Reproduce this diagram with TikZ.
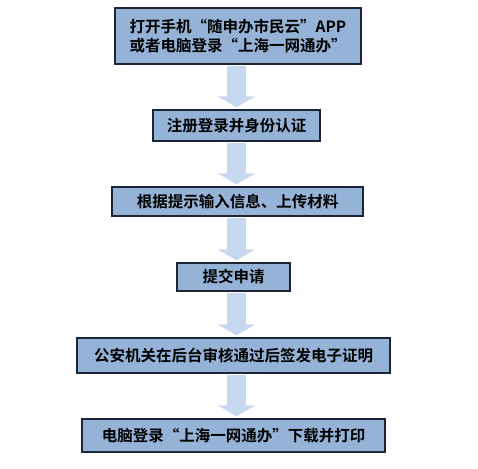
\documentclass[tikz,border=0pt]{standalone}
\usepackage{fontspec}
\newfontfamily\cjk{Noto Sans CJK SC}[BoldFont={Noto Sans CJK SC Bold}]
\usepackage{tikz}
\usetikzlibrary{arrows.meta, calc}
\definecolor{stepfill}{RGB}{149,179,215}
\definecolor{stepline}{RGB}{28,36,56}
\definecolor{flowblue}{RGB}{198,216,240}
\tikzset{
  stepbox/.style = {rectangle, draw=stepline, line width=1.3pt, fill=stepfill, align=center, inner sep=2pt,
                    font=\cjk\bfseries\fontsize{15.5}{19.5}\selectfont},
  flow/.style    = {draw=flowblue, line width=19pt, shorten <=1pt, shorten >=2pt,
                    -{Triangle[length=11pt, width=37pt]}},
}

\begin{document}
\begin{tikzpicture}[x=1pt, y=-1pt]
    \useasboundingbox (0,0) rectangle (478,468);

    % steps
    \node[stepbox, minimum width=246pt, minimum height=56pt] (open)   at (238,36)
      {打开手机“随申办市民云”APP\\或者电脑登录“上海一网通办”};
    \node[stepbox, minimum width=167pt, minimum height=31pt] (reg)    at (236.5,125.5) {注册登录并身份认证};
    \node[stepbox, minimum width=251pt, minimum height=29pt] (input)  at (237.5,201.5) {根据提示输入信息、上传材料};
    \node[stepbox, minimum width=113pt, minimum height=28pt] (submit) at (233.5,277) {提交申请};
    \node[stepbox, minimum width=313pt, minimum height=35pt] (review) at (233.5,355.5) {公安机关在后台审核通过后签发电子证明};
    \node[stepbox, minimum width=303pt, minimum height=33pt] (print)  at (233.5,435.5) {电脑登录“上海一网通办”下载并打印};

    % block arrows
    \foreach \a/\b in {open/reg, reg/input, input/submit, submit/review, review/print}{
      \draw[flow] (\a.south -| reg.north) -- (\b.north -| reg.north);
    }
  \end{tikzpicture}
\end{document}
